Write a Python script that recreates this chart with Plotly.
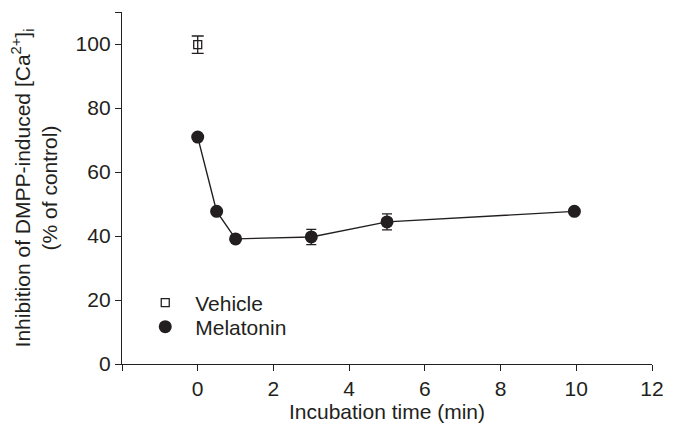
import plotly.graph_objects as go

# Data
vehicle_time = [0]
vehicle_value = [99.8]
vehicle_err = [2.7]

mel_time = [0, 0.5, 1, 3, 5, 9.95]
mel_value = [70.9, 47.7, 39.1, 39.7, 44.4, 47.7]
mel_err = [0, 0, 0, 2.4, 2.5, 0]

x_ticks = [-2, 0, 2, 4, 6, 8, 10, 12]
x_ticktext = ["", "0", "2", "4", "6", "8", "10", "12"]
y_ticks = [0, 20, 40, 60, 80, 100, 110]
y_ticktext = ["0", "20", "40", "60", "80", "100", ""]

FONT = "Liberation Sans, Arial, sans-serif"
INK = "#231f20"
FS = 21

# page body has an 8px margin; size the figure so it fits the window
W, H = 671, 423
ML, MR, MT, MB = 114, 27, 4, 67
PLOT_H = H - MT - MB

fig = go.Figure()

# connecting line for melatonin (no legend entry)
fig.add_trace(go.Scatter(
    x=mel_time, y=mel_value, mode="lines", showlegend=False, hoverinfo="skip",
    line=dict(color=INK, width=1.4),
))

fig.add_trace(go.Scatter(
    x=vehicle_time, y=vehicle_value, name="Vehicle", mode="markers", legend="legend",
    marker=dict(symbol="square-open", size=8, color=INK, line=dict(width=1.3, color=INK)),
    error_y=dict(type="data", array=vehicle_err, visible=True, color=INK, thickness=1.3, width=6),
))

fig.add_trace(go.Scatter(
    x=mel_time, y=mel_value, name="Melatonin", mode="markers", legend="legend2",
    marker=dict(symbol="circle", size=13, color=INK),
    error_y=dict(type="data", array=mel_err, visible=True, color=INK, thickness=1.3, width=5),
))

leg_common = dict(xanchor="left", yanchor="middle", bgcolor="rgba(0,0,0,0)",
                  font=dict(size=FS, color=INK), itemwidth=50, itemsizing="trace",
                  borderwidth=0)

# legend rows at page y 303 and 327 -> figure y 295 and 319
leg1_y = (H - MB - 295) / PLOT_H
leg2_y = (H - MB - 319) / PLOT_H

fig.update_layout(
    width=W, height=H,
    margin=dict(l=ML, r=MR, t=MT, b=MB),
    paper_bgcolor="white", plot_bgcolor="white",
    font=dict(family=FONT, size=FS, color=INK),
    showlegend=True,
    legend=dict(x=0.025, y=leg1_y, **leg_common),
    legend2=dict(x=0.025, y=leg2_y, **leg_common),
    xaxis=dict(
        range=[-2, 12], tickmode="array", tickvals=x_ticks, ticktext=x_ticktext,
        showline=True, linecolor=INK, linewidth=1.3,
        ticks="outside", ticklen=6, tickwidth=1.3, tickcolor=INK,
        showgrid=False, zeroline=False, automargin=False,
        title=dict(text="Incubation time (min)", standoff=3, font=dict(size=FS)),
        tickfont=dict(size=FS),
    ),
    yaxis=dict(
        range=[0, 110], tickmode="array", tickvals=y_ticks, ticktext=y_ticktext,
        showline=True, linecolor=INK, linewidth=1.3,
        ticks="outside", ticklen=6, tickwidth=1.3, tickcolor=INK,
        showgrid=False, zeroline=False, automargin=False,
        title=dict(text="Inhibition of DMPP-induced [Ca<sup>2+</sup>]<sub>i</sub><br>(% of control)",
                   standoff=14, font=dict(size=FS)),
        tickfont=dict(size=FS),
    ),
)

fig.write_html("out.html")
